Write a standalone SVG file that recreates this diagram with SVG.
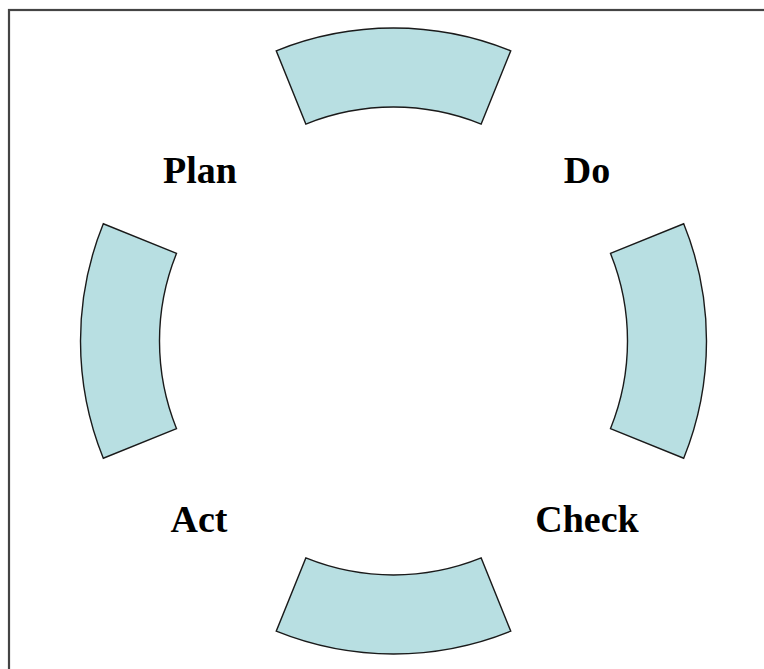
<svg xmlns="http://www.w3.org/2000/svg" width="764" height="669" viewBox="0 0 764 669">
  <style>
    .seg { fill: #b8dfe2; stroke: #1a1a1a; stroke-width: 1.4; stroke-linejoin: miter; }
    .lbl { font-family: "Liberation Serif", "Times New Roman", serif; font-weight: bold; font-size: 38px; fill: #000; text-anchor: middle; }
    .frame { fill: none; stroke: #444; stroke-width: 2.2; }
  </style>
  <rect width="764" height="669" fill="#fff"/>
  <!-- outer frame, running past the right and bottom edges -->
  <rect class="frame" x="9" y="10" width="770" height="680"/>

  <!-- ring segments: centre (393.5,341), radii 234..313, each spanning 44 degrees -->
  <g id="seg-top"><path class="seg" d="M276.25,50.8 A313,313 0 0 1 510.75,50.8 L481.16,124.04 A234,234 0 0 0 305.84,124.04 Z"/></g>
  <g id="seg-right"><path class="seg" d="M683.7,223.75 A313,313 0 0 1 683.7,458.25 L610.46,428.66 A234,234 0 0 0 610.46,253.34 Z"/></g>
  <g id="seg-bottom"><path class="seg" d="M510.75,631.2 A313,313 0 0 1 276.25,631.2 L305.84,557.96 A234,234 0 0 0 481.16,557.96 Z"/></g>
  <g id="seg-left"><path class="seg" d="M103.3,458.25 A313,313 0 0 1 103.3,223.75 L176.54,253.34 A234,234 0 0 0 176.54,428.66 Z"/></g>

  <g id="label-plan"><text class="lbl" x="200" y="183">Plan</text></g>
  <g id="label-do"><text class="lbl" x="587" y="183">Do</text></g>
  <g id="label-act"><text class="lbl" x="199" y="532">Act</text></g>
  <g id="label-check"><text class="lbl" x="587" y="532">Check</text></g>
</svg>
